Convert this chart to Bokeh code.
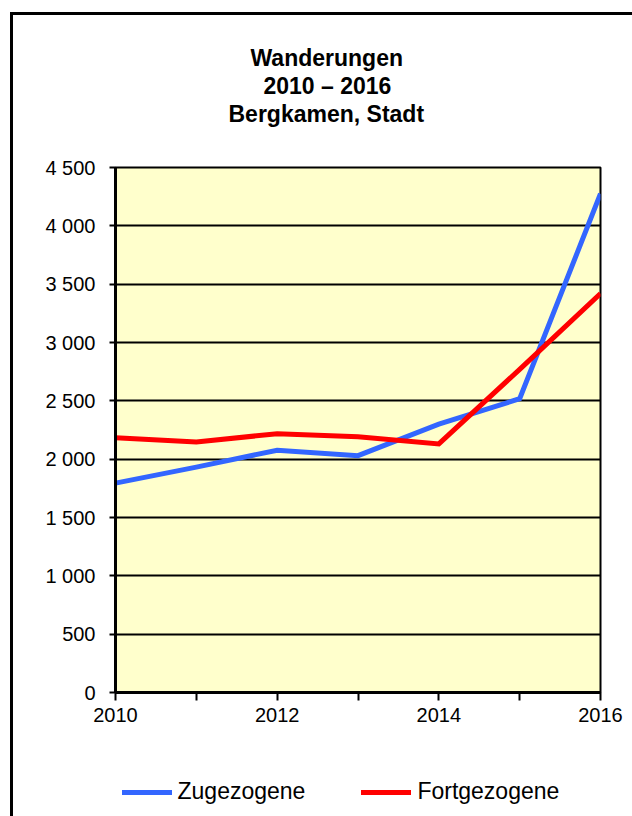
from bokeh.plotting import figure
from bokeh.models import (FixedTicker, Legend, LegendItem, Title, Range1d)
from bokeh.layouts import column
from bokeh.embed import file_html
from bokeh.resources import INLINE

years = [2010, 2011, 2012, 2013, 2014, 2015, 2016]
zugezogene = [1795, 1932, 2077, 2030, 2300, 2518, 4275]
fortgezogene = [2184, 2148, 2218, 2192, 2131, 2770, 3420]

y_ticks = [0, 500, 1000, 1500, 2000, 2500, 3000, 3500, 4000, 4500]
y_tick_labels = ["0", "500", "1 000", "1 500", "2 000", "2 500", "3 000", "3 500", "4 000", "4 500"]
x_tick_labels = ["2010", "", "2012", "", "2014", "", "2016"]
title_lines = ["Wanderungen", "2010 \u2013 2016", "Bergkamen, Stadt"]
title_offsets = [135, 148, 113]
series_names = ["Zugezogene", "Fortgezogene"]
series_colors = ["#3366FF", "#FF0000"]

FONT = "Liberation Sans"

# ---- main chart ----
p = figure(width=632, height=740, output_backend="svg", toolbar_location=None,
           x_range=Range1d(2010, 2016), y_range=Range1d(0, 4500),
           min_border_left=115, min_border_right=32, min_border_top=167, min_border_bottom=48)
p.title.visible = False
p.background_fill_color = "#FFFFCC"
p.border_fill_alpha = 0
p.outline_line_color = "black"
p.outline_line_width = 2

p.xgrid.visible = False
p.ygrid.ticker = FixedTicker(ticks=y_ticks)
p.ygrid.grid_line_color = "black"
p.ygrid.grid_line_width = 2

p.yaxis.ticker = FixedTicker(ticks=y_ticks)
p.yaxis.major_label_overrides = {t: l for t, l in zip(y_ticks, y_tick_labels)}
p.xaxis.ticker = FixedTicker(ticks=years)
p.xaxis.major_label_overrides = {t: l for t, l in zip(years, x_tick_labels)}

for ax in (p.xaxis[0], p.yaxis[0]):
    ax.axis_line_color = "black"
    ax.axis_line_width = 3
    ax.major_tick_line_color = "black"
    ax.major_tick_line_width = 2
    ax.major_tick_in = 0
    ax.minor_tick_line_color = None
    ax.major_label_text_font = FONT
    ax.major_label_text_font_size = "20px"
    ax.major_label_text_color = "black"
p.yaxis.major_tick_out = 6
p.yaxis.major_label_standoff = 14
p.xaxis.major_tick_out = 8
p.xaxis.major_label_standoff = 7

p.line(years, zugezogene, line_color=series_colors[0], line_width=5, line_join="miter")
p.line(years, fortgezogene, line_color=series_colors[1], line_width=5, line_join="miter")

# spacer between the title block and the plot area
p.add_layout(Title(text=" ", text_font_size="34px", standoff=0), "above")
for t, off in reversed(list(zip(title_lines, title_offsets))):
    p.add_layout(Title(text=t, align="left", offset=off, standoff=0, vertical_align="middle",
                       text_font=FONT, text_font_size="23px", text_font_style="bold",
                       text_color="black"), "above")

# ---- legend strip below the chart ----
lg = figure(width=632, height=76, output_backend="svg", toolbar_location=None,
            x_range=Range1d(2010, 2016), y_range=Range1d(-2, -1),
            x_axis_type=None, y_axis_type=None,
            min_border_left=115, min_border_right=32, min_border_top=0, min_border_bottom=0)
lg.title.visible = False
lg.outline_line_color = None
lg.background_fill_alpha = 0
lg.border_fill_alpha = 0
l1 = lg.line(years, zugezogene, line_color=series_colors[0], line_width=5, line_cap="round")
l2 = lg.line(years, fortgezogene, line_color=series_colors[1], line_width=5, line_cap="round")

legend = Legend(items=[LegendItem(label=series_names[0], renderers=[l1]),
                       LegendItem(label=series_names[1], renderers=[l2])],
                orientation="horizontal", location=(6.5, 11))
legend.border_line_color = None
legend.background_fill_alpha = 0
legend.padding = 0
legend.margin = 0
legend.spacing = 56
legend.glyph_width = 50
legend.glyph_height = 26
legend.label_height = 26
legend.label_standoff = 6
legend.label_text_font = FONT
legend.label_text_font_size = "23px"
legend.label_text_color = "black"
lg.add_layout(legend, "center")

layout = column(p, lg, spacing=0)
layout.styles = {
    "background": "linear-gradient(#000, #000) 10px 12px / 3px 100% no-repeat, "
                  "linear-gradient(#000, #000) 10px 12px / 100% 3px no-repeat, #fff"
}

open("out.html", "w").write(file_html(layout, INLINE))
